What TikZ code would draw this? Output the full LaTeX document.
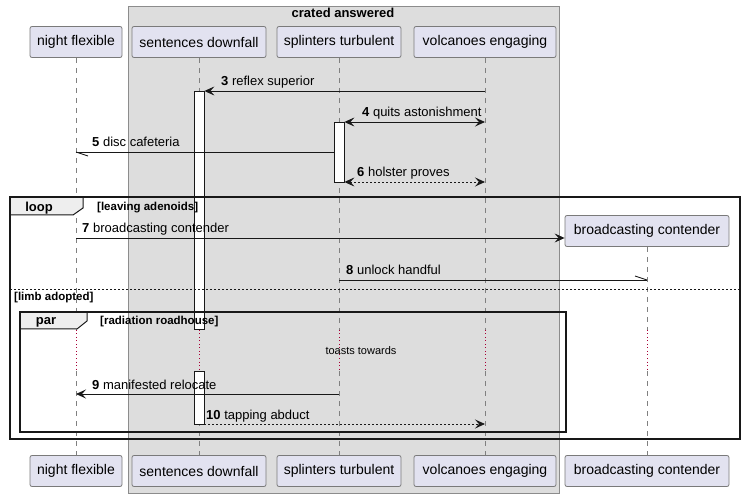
\documentclass[tikz,border=0pt]{standalone}
\usepackage{fontspec}
\setmainfont{Liberation Sans}
\usetikzlibrary{arrows.meta,calc}
\definecolor{partfill}{HTML}{E2E2F0}
\definecolor{partdraw}{HTML}{7A7A7A}
\definecolor{grpfill}{HTML}{DDDDDD}
\definecolor{grpdraw}{HTML}{8C8C8C}
\definecolor{lifec}{HTML}{808080}
\definecolor{delayc}{HTML}{A80036}
\definecolor{tabfill}{HTML}{EEEEEE}
\definecolor{ink}{HTML}{181818}
\begin{document}
\begin{tikzpicture}[x=1pt,y=-1pt,
 part/.style={draw=partdraw, fill=partfill, rounded corners=2pt, minimum height=31, inner sep=0, font=\fontsize{14}{16}\selectfont, line width=0.8},
 life/.style={draw=lifec, dash pattern=on 5pt off 5pt, line width=0.8},
 delayline/.style={draw=delayc, dash pattern=on 1pt off 2.5pt, line width=0.9},
 actbar/.style={draw=ink, fill=white, minimum width=10, inner sep=0, anchor=north, line width=0.8},
 tipA/.tip={Stealth[length=10pt,width=9pt,inset=4pt]},
 msg/.style={draw=ink, line width=0.9, -tipA},
 dmsg/.style={msg, dash pattern=on 2pt off 2pt},
 bimsg/.style={draw=ink, line width=0.9, tipA-tipA},
 dbimsg/.style={bimsg, dash pattern=on 2pt off 2pt},
 plain/.style={draw=ink, line width=0.9},
 lbl/.style={anchor=base west, inner sep=0, font=\fontsize{13}{15}\selectfont},
 frame/.style={draw=ink, line width=1.5},
 tabshape/.style={draw=ink, fill=tabfill, line width=1},
 ftitle/.style={anchor=base, inner sep=0, font=\fontsize{13}{15}\selectfont\bfseries},
 fcond/.style={anchor=base west, inner sep=0, font=\fontsize{11.5}{13}\selectfont\bfseries},
 sepline/.style={draw=ink, line width=0.8, dash pattern=on 2pt off 2pt},
 delaytext/.style={anchor=base, inner sep=0, font=\fontsize{11}{13}\selectfont}
]
\useasboundingbox (0,0) rectangle (745,497);
\fill[white] (0,0) rectangle (745,497);

% group box
\draw[draw=grpdraw, fill=grpfill, line width=0.9] (128,6) rectangle (559,493);
\node[ftitle] (gtitle) at (343,18) {crated answered};

% participants top
\node[part, minimum width=92] (nf) at (76,42) {night flexible};
\node[part, minimum width=134] (sd) at (199,42) {sentences downfall};
\node[part, minimum width=124] (st) at (339,42) {splinters turbulent};
\node[part, minimum width=142] (ve) at (485,42) {volcanoes engaging};
\node[part, minimum width=164] (bc) at (647,231) {broadcasting contender};
% participants bottom
\node[part, minimum width=92] (nfb) at (76,471) {night flexible};
\node[part, minimum width=134] (sdb) at (199,471) {sentences downfall};
\node[part, minimum width=124] (stb) at (339,471) {splinters turbulent};
\node[part, minimum width=142] (veb) at (485,471) {volcanoes engaging};
\node[part, minimum width=164] (bcb) at (647,471) {broadcasting contender};

% lifelines
\foreach \a/\b in {nf/nfb, sd/sdb, st/stb, ve/veb, bc/bcb}{
  \draw[life] (\a.south) -- (\a |- 0,330);
  \draw[delayline] (\a |- 0,330) -- (\a |- 0,371);
  \draw[life] (\a |- 0,371) -- (\b.north);
}

% activation bars
\node[actbar, minimum height=238] (sa1) at (sd |- 0,91) {};
\node[actbar, minimum height=53] (sa2) at (sd |- 0,371) {};
\node[actbar, minimum height=60] (ta1) at (st |- 0,122) {};

% frames
\draw[tabshape] (10,197) -- (83,197) -- (83,208) -- (73,215) -- (10,215) -- cycle;
\draw[frame] (10,197) rectangle (740,439);
\node[ftitle] (looplbl) at (39,212) {loop};
\node[fcond] (loopcond) at (97,211) {[leaving adenoids]};
\draw[sepline] (10,289) -- (740,289);
\node[fcond] (elsecond) at (14,301) {[limb adopted]};
\draw[tabshape] (20,312) -- (87,312) -- (87,321) -- (77,329) -- (20,329) -- cycle;
\draw[frame] (20,312) rectangle (566,432);
\node[ftitle] (parlbl) at (46,324) {par};
\node[fcond] (parcond) at (100,324) {[radiation roadhouse]};

% delay text
\node[delaytext] (delay) at (361,355) {toasts towards};

% messages
\draw[msg] (ve |- 0,91) -- (sa1.east |- 0,91);
\node[lbl] (l3) at (221,86) {\textbf{3} reflex superior};

\draw[bimsg] (ta1.east |- 0,122) -- (ve |- 0,122);
\node[lbl] (l4) at (362,117) {\textbf{4} quits astonishment};

\draw[plain] (ta1.west |- 0,152) -- (nf |- 0,152);
\draw[plain] (nf |- 0,152) -- ++(12,4);
\node[lbl] (l5) at (92,147) {\textbf{5} disc cafeteria};

\draw[dbimsg] (ta1.east |- 0,182) -- (ve |- 0,182);
\node[lbl] (l6) at (357,177) {\textbf{6} holster proves};

\draw[msg] (nf |- 0,238) -- (bc.west |- 0,238);
\node[lbl] (l7) at (82,233) {\textbf{7} broadcasting contender};

\draw[plain] (st |- 0,280) -- (bc |- 0,280);
\draw[plain] (bc |- 0,280) -- ++(-12,-4);
\node[lbl] (l8) at (346,275) {\textbf{8} unlock handful};

\draw[msg] (st |- 0,394) -- (nf |- 0,394);
\node[lbl] (l9) at (92,389) {\textbf{9} manifested relocate};

\draw[dmsg] (sa2.east |- 0,424) -- (ve |- 0,424);
\node[lbl] (l10) at (206,419) {\textbf{10} tapping abduct};
\end{tikzpicture}
\end{document}
